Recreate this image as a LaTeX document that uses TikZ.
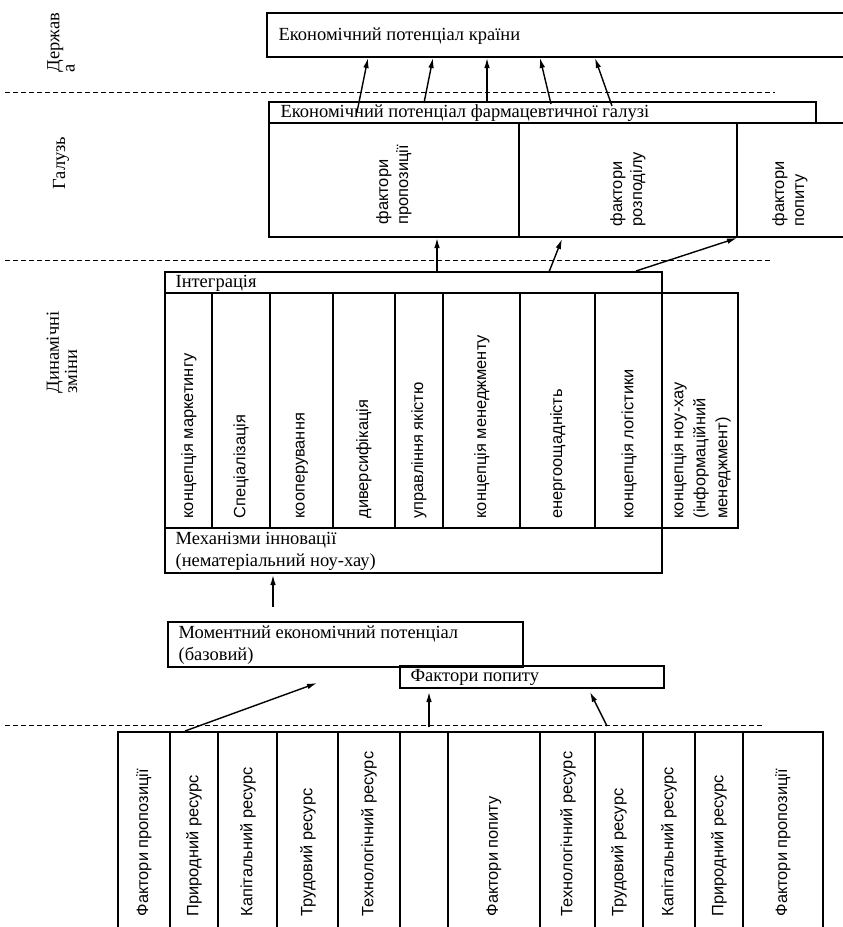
\documentclass[tikz,border=0pt]{standalone}
\usepackage{fontspec}
\setmainfont{Liberation Serif}
\setsansfont{Liberation Sans}
\usetikzlibrary{arrows.meta}

\begin{document}
\begin{tikzpicture}[x=0.5pt,y=-0.5pt,line width=0.6pt,
  sep/.style={dash pattern=on 2.5pt off 1.5pt,line width=0.5pt},
  arr/.style={-{Latex[length=5pt,width=2.8pt]},line width=0.7pt},
  txt/.style={anchor=west,inner sep=0pt,align=left,font=\fontsize{9.25}{10}\selectfont},
  vert/.style={rotate=90,anchor=west,inner sep=0pt,align=left,font=\sffamily\fontsize{8.2}{11}\selectfont},
  side/.style={rotate=90,anchor=west,inner sep=0pt,align=left,font=\fontsize{9.25}{7.6}\selectfont}]
\path[use as bounding box,fill=white] (0,0) rectangle (842,927);

% levels
\draw[sep] (5,92) -- (775,92);
\draw[sep] (5,260) -- (770,260);
\draw[sep] (5,725) -- (765,725);

\node[side] (derzhava) at (61,73) {Держав\\а};
\node[side] (galuz) at (61,190) {Галузь};
\node[side] (dynamika) at (62,394) {Динамічні\\зміни};

% country
\draw (267,13) rectangle (845,57);
\node[txt] (krayina) at (278,36) {Економічний потенціал країни};

% industry
\draw (269,102) rectangle (816,123);
\draw (816,123) -- (845,123);
\draw (269,123) -- (269,237) -- (845,237);
\draw (519,123) -- (519,237);
\draw (737,123) -- (737,237);
\node[txt] (galuzPot) at (280,113) {Економічний потенціал фармацевтичної галузі};
\node[vert,font=\sffamily\fontsize{8.2}{10}\selectfont] (fProp) at (394,225) {фактори\\пропозиції};
\node[vert,font=\sffamily\fontsize{8.2}{10}\selectfont] (fRozp) at (628,227) {фактори\\розподілу};
\node[vert,font=\sffamily\fontsize{8.2}{10}\selectfont] (fPop) at (790,227) {фактори\\попиту};

% dynamic changes
\draw (165,272) rectangle (662,573);
\draw (165,293) -- (738,293) -- (738,528) -- (165,528);
\draw (212,293) -- (212,528);
\draw (270,293) -- (270,528);
\draw (333,293) -- (333,528);
\draw (395,293) -- (395,528);
\draw (443,293) -- (443,528);
\draw (520,293) -- (520,528);
\draw (595,293) -- (595,528);
\node[txt] (integr) at (175,283) {Інтеграція};
\node[vert] (kMark) at (189,519) {концепція маркетингу};
\node[vert] (spec) at (241,519) {Спеціалізація};
\node[vert] (koop) at (302,519) {кооперування};
\node[vert] (dyvers) at (364,519) {диверсифікація};
\node[vert] (yakist) at (419,519) {управління якістю};
\node[vert] (kMen) at (482,519) {концепція менеджменту};
\node[vert] (energ) at (558,519) {енергоощадність};
\node[vert] (kLog) at (629,519) {концепція логістики};
\node[vert] (kNou) at (701,519) {концепція ноу-хау\\(інформаційний\\менеджмент)};
\node[txt,font=\fontsize{9.25}{11}\selectfont] (mehan) at (175,551) {Механізми інновації\\(нематеріальний ноу-хау)};

% base potential
\draw (168,622) rectangle (523,667);
\node[txt,font=\fontsize{9.25}{11}\selectfont] (moment) at (178,645) {Моментний економічний потенціал\\(базовий)};
\draw (400,666) rectangle (664,688);
\node[txt] (popyt) at (410,677) {Фактори попиту};

% resources
\draw (118,935) -- (118,732) -- (823,732) -- (823,935);
\draw (170,732) -- (170,935);
\draw (218,732) -- (218,935);
\draw (277,732) -- (277,935);
\draw (338,732) -- (338,935);
\draw (400,732) -- (400,935);
\draw (448,732) -- (448,935);
\draw (540,732) -- (540,935);
\draw (595,732) -- (595,935);
\draw (643,732) -- (643,935);
\draw (695,732) -- (695,935);
\draw (743,732) -- (743,935);
\node[vert] (rProp1) at (144,917) {Фактори пропозиції};
\node[vert] (rPryr1) at (194,917) {Природний ресурс};
\node[vert] (rKap1) at (248,917) {Капітальний ресурс};
\node[vert] (rTrud1) at (308,917) {Трудовий ресурс};
\node[vert] (rTech1) at (369,917) {Технологічний ресурс};
\node[vert] (rPop) at (494,917) {Фактори попиту};
\node[vert] (rTech2) at (568,917) {Технологічний ресурс};
\node[vert] (rTrud2) at (619,917) {Трудовий ресурс};
\node[vert] (rKap2) at (669,917) {Капітальний ресурс};
\node[vert] (rPryr2) at (719,917) {Природний ресурс};
\node[vert] (rProp2) at (783,917) {Фактори пропозиції};

% arrow ends
\coordinate (g1) at (357,112);
\coordinate (g2) at (424,103);
\coordinate (g3) at (487,102);
\coordinate (g4) at (551,104);
\coordinate (g5) at (612,106);
\coordinate (k1) at (368,58);
\coordinate (k2) at (433,58);
\coordinate (k3) at (487,58);
\coordinate (k4) at (540,58);
\coordinate (k5) at (595,58);
\coordinate (d1) at (437,272);
\coordinate (d2) at (549,272);
\coordinate (d3) at (636,271);
\coordinate (h1) at (437,238);
\coordinate (h2) at (562,239);
\coordinate (h3) at (737,238);
\coordinate (m1) at (273,607);
\coordinate (m2) at (273,575);
\coordinate (b1) at (185,731);
\coordinate (b2) at (429,727);
\coordinate (b3) at (607,726);
\coordinate (t1) at (317,683);
\coordinate (t2) at (429,692);
\coordinate (t3) at (590,692);

\draw[arr] (g1) -- (k1);
\draw[arr] (g2) -- (k2);
\draw[arr] (g3) -- (k3);
\draw[arr] (g4) -- (k4);
\draw[arr] (g5) -- (k5);
\draw[arr] (d1) -- (h1);
\draw[arr] (d2) -- (h2);
\draw[arr] (d3) -- (h3);
\draw[arr] (m1) -- (m2);
\draw[arr] (b1) -- (t1);
\draw[arr] (b2) -- (t2);
\draw[arr] (b3) -- (t3);
\end{tikzpicture}
\end{document}
